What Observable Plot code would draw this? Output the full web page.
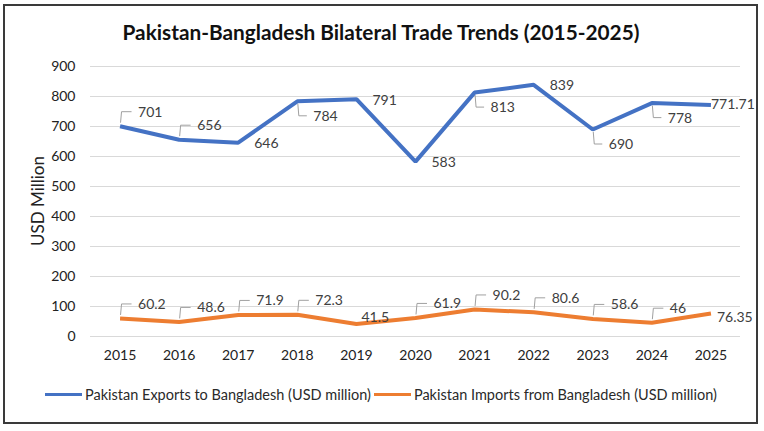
<!DOCTYPE html>
<html>
<head>
<meta charset="utf-8">
<script src="https://cdn.jsdelivr.net/npm/d3@7"></script>
<script src="https://cdn.jsdelivr.net/npm/@observablehq/plot@0.6"></script>
<style>
  html, body { margin: 0; padding: 0; background: #fff; }
  body { width: 764px; height: 431px; position: relative; overflow: hidden; font-family: Lato, "Liberation Sans", Arial, sans-serif; }
  #frame { position: absolute; left: 3px; top: 4px; width: 751px; height: 416px; border: 2px solid #3a3a3a; }
  #title { position: absolute; left: 0; top: 19px; width: 762px; text-align: center; font-size: 20.8px; font-weight: bold; color: #111; }
  #chart { position: absolute; left: 0; top: 50px; }
  #ylabel { position: absolute; left: 37px; top: 201px; transform: translate(-50%, -50%) rotate(-90deg); font-size: 17px; color: #222; white-space: nowrap; }
  #legend { position: absolute; left: 45px; top: 386px; font-size: 14.5px; color: #2a2a2a; white-space: nowrap; display: flex; align-items: center; }
  #legend .sw { display: inline-block; width: 37px; height: 3px; margin-right: 3px; }
  #legend .item { display: flex; align-items: center; margin-right: 3px; }
</style>
</head>
<body>
<div id="frame"></div>
<div id="title">Pakistan-Bangladesh Bilateral Trade Trends (2015-2025)</div>
<div id="chart"></div>
<div id="ylabel">USD Million</div>
<div id="legend"></div>
<script>
const years = [2015, 2016, 2017, 2018, 2019, 2020, 2021, 2022, 2023, 2024, 2025];
const exportsVals = [701, 656, 646, 784, 791, 583, 813, 839, 690, 778, 771.71];
const importsVals = [60.2, 48.6, 71.9, 72.3, 41.5, 61.9, 90.2, 80.6, 58.6, 46, 76.35];
const yTicks = [0, 100, 200, 300, 400, 500, 600, 700, 800, 900];
const seriesNames = ["Pakistan Exports to Bangladesh (USD million)", "Pakistan Imports from Bangladesh (USD million)"];
const seriesColors = ["#4472C4", "#ED7D31"];
// label callout placement: "ur" up-right, "dr" down-right, "r" right, "ru" right slightly up, "e"/"ed" at line end
const exportPlacement = ["ur", "ur", "r", "dr", "r", "r", "dr", "r", "dr", "dr", "e"];
const importPlacement = ["ur", "ur", "ur", "ur", "ru", "ur", "ur", "ur", "ur", "ur", "ed"];

const offsets = {
  ur: {dx: 18, dy: -14},
  dr: {dx: 16, dy: 15},
  r: {dx: 16, dy: 1},
  ru: {dx: 5, dy: -7},
  e: {dx: 0, dy: 0},
  ed: {dx: 6, dy: 4}
};

const rows = [];
years.forEach((yr, i) => {
  rows.push({year: yr, value: exportsVals[i], series: seriesNames[0], place: exportPlacement[i]});
  rows.push({year: yr, value: importsVals[i], series: seriesNames[1], place: importPlacement[i]});
});

function fmt(v) { return String(v); }

function leaders(data) {
  return (index, scales) => {
    const g = d3.create("svg:g").attr("fill", "none").attr("stroke", "#a0a0a0").attr("stroke-width", 1);
    for (const d of data) {
      if (d.place !== "ur" && d.place !== "dr") continue;
      const o = offsets[d.place];
      const x = scales.x(d.year), y = scales.y(d.value);
      const sgn = o.dy < 0 ? -1 : 1;
      const y0 = y + sgn * 3;
      const y1 = y + o.dy;
      g.append("path").attr("d", `M${x + 1},${y0} L${x + 2},${y1} L${x + o.dx - 6},${y1}`);
    }
    return g.node();
  };
}

const textMarks = Object.keys(offsets).map(k =>
  Plot.text(rows.filter(d => d.place === k), {
    x: "year", y: "value", text: d => fmt(d.value),
    dx: offsets[k].dx, dy: offsets[k].dy, textAnchor: "start",
    fill: "#404040", fontSize: 14
  })
);

const chart = Plot.plot({
  width: 764,
  height: 320,
  marginLeft: 90,
  marginRight: 24,
  marginTop: 16,
  marginBottom: 34,
  style: {fontFamily: 'Lato, "Liberation Sans", Arial, sans-serif', fontSize: "14px", color: "#222", background: "transparent", overflow: "visible"},
  x: {domain: [2014.5, 2025.5], axis: null},
  y: {domain: [0, 900], axis: null},
  color: {domain: seriesNames, range: seriesColors},
  marks: [
    Plot.gridY(yTicks, {stroke: "#d9d9d9", strokeOpacity: 1, strokeWidth: 1}),
    Plot.axisY(yTicks, {tickSize: 0, tickPadding: 15, label: null, fontSize: 14, fill: "#222"}),
    Plot.axisX(years, {tickSize: 0, tickPadding: 14, label: null, tickFormat: d => String(d), fontSize: 14, fill: "#222"}),
    leaders(rows),
    Plot.line(rows, {x: "year", y: "value", z: "series", stroke: "series", strokeWidth: 4, strokeLinejoin: "miter", strokeLinecap: "butt"}),
    ...textMarks
  ]
});
document.getElementById("chart").appendChild(chart);

const legend = document.getElementById("legend");
seriesNames.forEach((name, i) => {
  const item = document.createElement("span");
  item.className = "item";
  const sw = document.createElement("span");
  sw.className = "sw";
  sw.style.background = seriesColors[i];
  item.appendChild(sw);
  const t = document.createElement("span");
  t.textContent = name;
  item.appendChild(t);
  legend.appendChild(item);
});
</script>
</body>
</html>
